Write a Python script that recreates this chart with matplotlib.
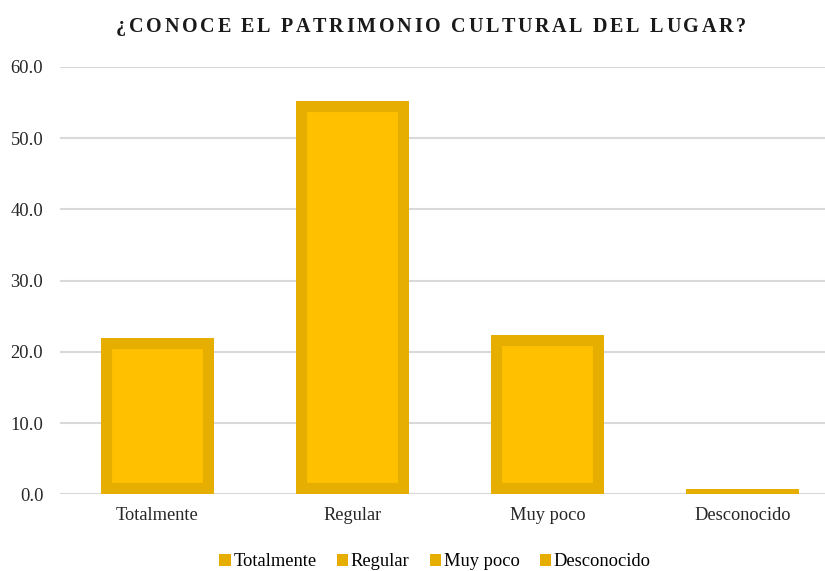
import matplotlib
matplotlib.use("Agg")
import matplotlib.pyplot as plt
from matplotlib.patches import Patch
from matplotlib.font_manager import FontProperties

categories = ["Totalmente", "Regular", "Muy poco", "Desconocido"]
values = [22.0, 55.2, 22.3, 0.7]
yticks = [0, 10, 20, 30, 40, 50, 60]
title = "¿CONOCE EL PATRIMONIO CULTURAL DEL LUGAR?"

fill_color = "#FFC000"
edge_color = "#E6AE00"

plt.rcParams['font.family'] = ['Liberation Serif', 'DejaVu Serif']

fig = plt.figure(figsize=(8.25, 5.71), dpi=100)
W, H = 825, 571
ax = fig.add_axes([60 / W, 1 - 494.3 / H, 780 / W, (494.3 - 67) / H])

x = list(range(len(categories)))
bars = ax.bar(x, values, width=0.58, color=fill_color, edgecolor=edge_color,
              linewidth=16, zorder=3)
for b in bars:
    b.set_clip_path(b)

ax.set_xlim(-0.5, len(categories) - 0.5)
ax.set_ylim(0, 60)
ax.set_yticks(yticks)
ax.set_yticklabels([f"{v:.1f}" for v in yticks], fontsize=13.3, color="#262626")
ax.set_xticks(x)
ax.set_xticklabels(categories, fontsize=13.2, color="#262626")
ax.tick_params(axis='both', length=0)
ax.tick_params(axis='y', pad=12)
ax.tick_params(axis='x', pad=9)
ax.yaxis.grid(True, color="#D9D9D9", linewidth=1.5, zorder=0)
for s in ax.spines.values():
    s.set_visible(False)
ax.set_axisbelow(True)

# Title with letter spacing, laid out character by character
fp = FontProperties(family=['Liberation Serif', 'DejaVu Serif'], weight='bold', size=14.5)
renderer = fig.canvas.get_renderer()
spacing = 2.7  # px between characters
widths = []
for ch in title:
    w, h, d = renderer.get_text_width_height_descent(ch, fp, ismath=False)
    widths.append(w)
total = sum(widths) + spacing * (len(title) - 1)
cx = 431
xpos = cx - total / 2
for ch, w in zip(title, widths):
    fig.text(xpos / W, 1 - 24 / H, ch, ha="left", va="center_baseline",
             fontproperties=fp, color="#1a1a1a")
    xpos += w + spacing

handles = [Patch(facecolor=edge_color, edgecolor='none', label=c) for c in categories]
fig.legend(handles=handles, loc="center", bbox_to_anchor=(435 / W, 1 - 562 / H),
           ncol=4, frameon=False, fontsize=13.3, handlelength=0.6, handleheight=0.6,
           handletextpad=0.15, columnspacing=1.1, borderaxespad=0)

fig.savefig("out.png", dpi=100)
